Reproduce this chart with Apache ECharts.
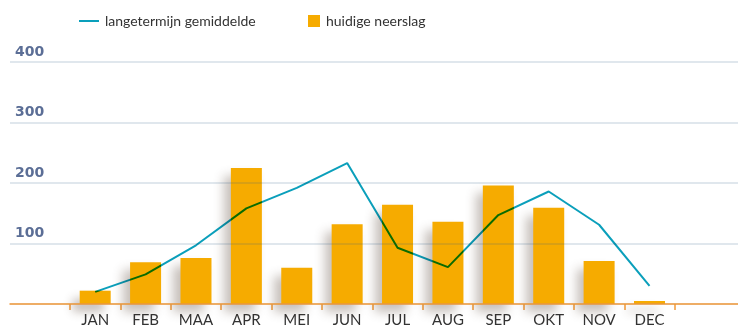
<!DOCTYPE html>
<html>
<head>
<meta charset="utf-8">
<script src="https://cdn.jsdelivr.net/npm/echarts@6/dist/echarts.min.js"></script>
<style>
  html, body { margin: 0; padding: 0; background: #ffffff; }
  #chart { width: 738px; height: 332px; }
</style>
</head>
<body>
<div id="chart"></div>
<script>
// Monthly precipitation (mm)
const months = ['JAN', 'FEB', 'MAA', 'APR', 'MEI', 'JUN', 'JUL', 'AUG', 'SEP', 'OKT', 'NOV', 'DEC'];
const currentRain = [22, 69, 76, 225, 60, 132, 164, 136, 196, 159, 71, 5];
const longTermAvg = [20, 49, 97, 158, 192, 233, 93, 61, 147, 186, 131, 30];
const yTicks = [0, 100, 200, 300, 400];

const lineName = 'langetermijn gemiddelde';
const barName = 'huidige neerslag';

const teal = '#0a9fbb';
const orange = '#f6ab00';
const axisOrange = '#f29a3a';

const gridTop = 62;
const gridBottom = 28;

const chart = echarts.init(document.getElementById('chart'), null, { renderer: 'canvas' });

chart.setOption({
  animation: false,
  backgroundColor: '#ffffff',
  textStyle: { fontFamily: 'Lato' },
  legend: [
    {
      left: 79, top: 14, padding: 0,
      itemWidth: 20, itemHeight: 2, itemGap: 0,
      data: [{ name: lineName, icon: 'rect' }],
      textStyle: { fontFamily: 'Lato', fontSize: 14, color: '#333333', padding: [0, 0, 0, 1] }
    },
    {
      left: 308, top: 14, padding: 0,
      itemWidth: 12, itemHeight: 12, itemGap: 0,
      data: [{ name: barName, icon: 'rect' }],
      itemStyle: { shadowBlur: 0, shadowOffsetX: 0, shadowOffsetY: 0, shadowColor: 'transparent' },
      textStyle: { fontFamily: 'Lato', fontSize: 14, color: '#333333', padding: [0, 0, 0, 1] }
    }
  ],
  grid: [
    // full-width grid: horizontal reference lines and baseline
    { left: 10, right: 0, top: gridTop, bottom: gridBottom },
    // plotting grid for the twelve months
    { left: 70, right: 63.3, top: gridTop, bottom: gridBottom }
  ],
  xAxis: [
    {
      gridIndex: 0, type: 'value', min: 0, max: 1, z: 5,
      axisLine: { show: true, lineStyle: { color: axisOrange, width: 1.5 } },
      axisTick: { show: false }, axisLabel: { show: false }, splitLine: { show: false }
    },
    {
      gridIndex: 1, type: 'category', data: months, boundaryGap: true,
      axisLine: { show: false },
      axisTick: { show: true, length: 6, lineStyle: { color: axisOrange, width: 1.5 } },
      axisLabel: { fontFamily: 'Lato', fontSize: 15, color: '#333333', margin: 9 },
      splitLine: { show: false }
    }
  ],
  yAxis: [
    {
      gridIndex: 0, type: 'value', min: yTicks[0], max: yTicks[yTicks.length - 1], interval: 100, z: 5,
      axisLine: { show: false }, axisTick: { show: false },
      axisLabel: {
        inside: true, showMinLabel: false, margin: 5, align: 'left',
        verticalAlign: 'bottom', lineHeight: 20,
        fontFamily: 'DejaVu Sans', fontWeight: 'bold', fontSize: 14, color: '#5b6e96'
      },
      splitLine: { show: true, lineStyle: { color: 'rgba(50,95,135,0.2)', width: 1.5 } }
    },
    {
      gridIndex: 1, type: 'value', min: yTicks[0], max: yTicks[yTicks.length - 1], interval: 100, show: false
    }
  ],
  series: [
    {
      name: barName, type: 'bar', xAxisIndex: 1, yAxisIndex: 1,
      data: currentRain, barWidth: 31, z: 2,
      itemStyle: {
        color: orange,
        shadowColor: 'rgba(70,45,30,0.3)', shadowBlur: 10, shadowOffsetX: -7, shadowOffsetY: 8
      }
    },
    {
      name: lineName, type: 'line', xAxisIndex: 1, yAxisIndex: 1,
      data: longTermAvg, symbol: 'none', z: 6,
      blendMode: 'multiply',
      lineStyle: { color: teal, width: 2 },
      itemStyle: { color: teal }
    }
  ]
});
</script>
</body>
</html>
